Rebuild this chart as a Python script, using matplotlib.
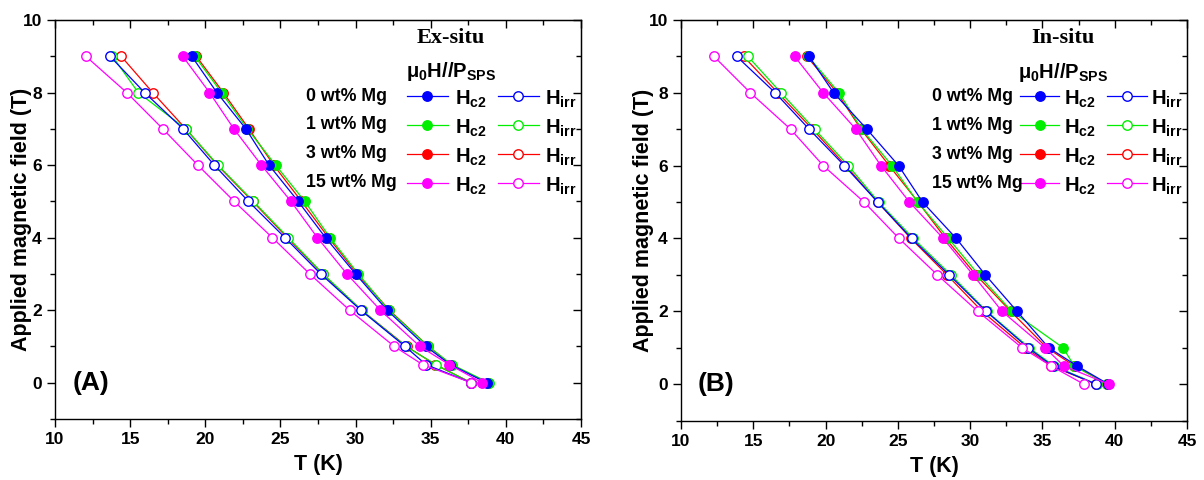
import numpy as np
import matplotlib
matplotlib.use("Agg")
import matplotlib.pyplot as plt
from matplotlib.ticker import MultipleLocator

plt.rcParams['font.family'] = ['Liberation Sans', 'DejaVu Sans']
plt.rcParams['font.weight'] = 'bold'
plt.rcParams['mathtext.fontset'] = 'custom'
plt.rcParams['mathtext.rm'] = 'Liberation Sans:bold'
plt.rcParams['mathtext.bf'] = 'Liberation Sans:bold'
plt.rcParams['mathtext.it'] = 'Liberation Sans:bold'

# applied field (T)
field = [0, 0.5, 1, 2, 3, 4, 5, 6, 7, 8, 9]
samples = ["0 wt% Mg", "1 wt% Mg", "3 wt% Mg", "15 wt% Mg"]
colors = ["#0000ff", "#00ee00", "#ff0000", "#ff00ff"]

# Ex-situ, T (K)
ex_hc2 = {
    "0 wt% Mg":  [38.72, 36.30, 34.68, 32.10, 30.00, 28.00, 26.18, 24.24, 22.70, 20.77, 19.10],
    "1 wt% Mg":  [38.87, 36.40, 34.85, 32.20, 30.18, 28.30, 26.62, 24.68, 22.80, 21.08, 19.30],
    "3 wt% Mg":  [38.80, 36.35, 34.85, 32.25, 30.10, 28.20, 26.40, 24.55, 22.90, 21.20, 19.40],
    "15 wt% Mg": [38.43, 36.23, 34.28, 31.65, 29.42, 27.46, 25.70, 23.73, 21.90, 20.28, 18.50],
}
ex_hirr = {
    "0 wt% Mg":  [37.70, 34.68, 33.30, 30.35, 27.68, 25.30, 22.87, 20.60, 18.52, 15.96, 13.66],
    "1 wt% Mg":  [37.67, 35.34, 33.36, 30.40, 27.84, 25.52, 23.20, 20.84, 18.70, 15.54, 13.82],
    "3 wt% Mg":  [37.70, 35.30, 33.40, 30.40, 27.80, 25.45, 23.15, 20.80, 18.70, 16.50, 14.40],
    "15 wt% Mg": [37.70, 34.46, 32.58, 29.60, 26.95, 24.46, 21.92, 19.50, 17.17, 14.77, 12.05],
}

# In-situ, T (K)
in_hc2 = {
    "0 wt% Mg":  [39.55, 37.39, 35.43, 33.24, 31.05, 29.04, 26.71, 25.05, 22.86, 20.56, 18.85],
    "1 wt% Mg":  [39.50, 37.20, 36.42, 32.87, 30.59, 28.50, 26.37, 24.60, 22.50, 20.93, 18.80],
    "3 wt% Mg":  [39.50, 37.20, 35.30, 32.80, 30.40, 28.30, 26.40, 24.40, 22.45, 20.80, 18.71],
    "15 wt% Mg": [39.58, 36.47, 35.17, 32.20, 30.20, 28.14, 25.80, 23.83, 22.10, 19.84, 17.86],
}
in_hirr = {
    "0 wt% Mg":  [38.70, 35.70, 34.00, 31.10, 28.55, 25.95, 23.60, 21.30, 18.87, 16.52, 13.85],
    "1 wt% Mg":  [38.75, 35.78, 34.09, 31.14, 28.67, 26.07, 23.67, 21.57, 19.24, 16.92, 14.63],
    "3 wt% Mg":  [38.70, 35.60, 33.81, 30.82, 28.40, 25.90, 23.60, 21.40, 19.10, 16.70, 14.33],
    "15 wt% Mg": [37.85, 35.59, 33.58, 30.52, 27.73, 25.08, 22.66, 19.84, 17.58, 14.80, 12.28],
}

fig = plt.figure(figsize=(12.04, 4.8), dpi=100)
W, H = 1204.0, 480.0
axA = fig.add_axes([55 / W, (H - 419) / H, 526 / W, 399 / H])
axB = fig.add_axes([681 / W, (H - 420.5) / H, 506 / W, 400.5 / H])

ms = 6.8
lw = 0.9
order = [2, 1, 0, 3]


def draw_panel(ax, hc2, hirr, title, tag, leg):
    for i in order:
        s = samples[i]
        ax.plot(hirr[s], field, '-o', color=colors[i], lw=lw, ms=ms,
                mfc='white', mec=colors[i], mew=1.0)
    for i in order:
        s = samples[i]
        ax.plot(hc2[s], field, '-o', color=colors[i], lw=lw, ms=ms,
                mfc=colors[i], mec=colors[i])

    ax.set_xlim(10, 45)
    ax.set_ylim(-1, 10)
    ax.xaxis.set_major_locator(MultipleLocator(5))
    ax.xaxis.set_minor_locator(MultipleLocator(2.5))
    ax.yaxis.set_major_locator(MultipleLocator(2))
    ax.yaxis.set_minor_locator(MultipleLocator(1))
    ax.tick_params(which='both', direction='out', top=False, right=False,
                   labelsize=12.5, width=1.0)
    ax.tick_params(which='major', length=6)
    ax.tick_params(which='minor', length=3.5)
    for sp in ax.spines.values():
        sp.set_linewidth(1.0)
    # mirrored inward ticks on top/right
    axt = ax.secondary_xaxis('top')
    axt.xaxis.set_major_locator(MultipleLocator(5))
    axt.xaxis.set_minor_locator(MultipleLocator(2.5))
    axt.tick_params(which='both', direction='in', labeltop=False, width=1.0)
    axt.tick_params(which='major', length=6)
    axt.tick_params(which='minor', length=3.5)
    axr = ax.secondary_yaxis('right')
    axr.yaxis.set_major_locator(MultipleLocator(2))
    axr.yaxis.set_minor_locator(MultipleLocator(1))
    axr.tick_params(which='both', direction='in', labelright=False, width=1.0)
    axr.tick_params(which='major', length=6)
    axr.tick_params(which='minor', length=3.5)

    ax.set_xlabel("T (K)", fontsize=15.5, fontweight='bold', labelpad=5)
    ax.set_ylabel("Applied magnetic field (T)", fontsize=15.5, fontweight='bold')
    ax.yaxis.set_label_coords(leg['ylab'], 0.5)
    ax.text(0.033, 0.09, tag, transform=ax.transAxes, fontsize=19,
            fontweight='bold', va='center', ha='left')

    # hand-built legend
    tx = ax.transAxes
    ax.text(leg['title'], 0.954, title, transform=tx, ha='center', va='center',
            fontsize=16, fontweight='bold', family=['Liberation Serif', 'DejaVu Serif'])
    ax.text(leg['title'], 0.870, r'$\mathbf{\mu}_{\mathbf{0}}\mathbf{H//P}_{\mathbf{SPS}}$',
            transform=tx, ha='center', va='center', fontsize=14.5)
    rows = [0.809, 0.737, 0.665, 0.592]
    for i, y in enumerate(rows):
        ax.text(leg['lab'], y, samples[i], transform=tx, ha='left', va='center',
                fontsize=12.8, fontweight='bold')
        for x0, x1, filled, t, txt in [
                (leg['l1'][0], leg['l1'][1], True, leg['t1'], r'$\mathbf{H}_{\mathbf{c2}}$'),
                (leg['l2'][0], leg['l2'][1], False, leg['t2'], r'$\mathbf{H}_{\mathbf{irr}}$')]:
            ax.plot([x0, x1], [y, y], '-', color=colors[i], lw=lw,
                    transform=tx, clip_on=False)
            ax.plot([(x0 + x1) / 2], [y], 'o', color=colors[i], ms=ms,
                    mfc=colors[i] if filled else 'white', mec=colors[i],
                    transform=tx, clip_on=False)
            ax.text(t, y - 0.008, txt, transform=tx, ha='left', va='center',
                    fontsize=14.5)


legA = dict(title=0.752, lab=0.477, l1=(0.669, 0.747), t1=0.760,
            l2=(0.842, 0.920), t2=0.932, ylab=-0.044)
legB = dict(title=0.755, lab=0.497, l1=(0.669, 0.748), t1=0.757,
            l2=(0.841, 0.920), t2=0.929, ylab=-0.054)

draw_panel(axA, ex_hc2, ex_hirr, "Ex-situ", "(A)", legA)
draw_panel(axB, in_hc2, in_hirr, "In-situ", "(B)", legB)

fig.savefig("out.png", dpi=100)
